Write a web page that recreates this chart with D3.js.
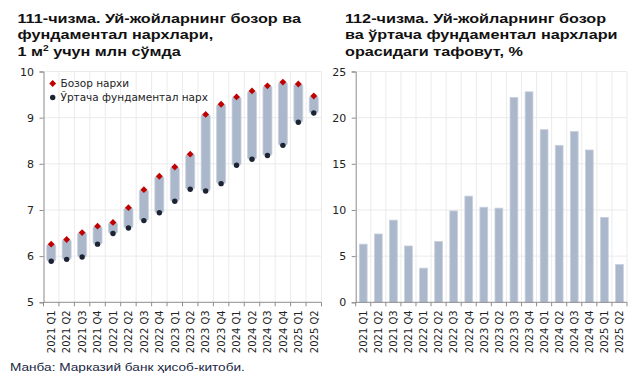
<!DOCTYPE html>
<html><head><meta charset="utf-8">
<script src="https://cdn.jsdelivr.net/npm/d3@7"></script>
<style>
body{margin:0;background:#fff;}
svg{display:block;font-family:"Liberation Sans",Arial,sans-serif;}
</style></head>
<body><svg id="c" width="643" height="380"></svg>
<script>
const quarters = ["2021 Q1","2021 Q2","2021 Q3","2021 Q4","2022 Q1","2022 Q2","2022 Q3","2022 Q4","2023 Q1","2023 Q2","2023 Q3","2023 Q4","2024 Q1","2024 Q2","2024 Q3","2024 Q4","2025 Q1","2025 Q2"];
const marketPrice = [6.26,6.36,6.51,6.65,6.73,7.05,7.44,7.73,7.93,8.21,9.07,9.29,9.45,9.58,9.69,9.77,9.73,9.47];
const fundamentalPrice = [5.89,5.93,5.98,6.26,6.49,6.61,6.77,6.94,7.19,7.45,7.41,7.57,7.97,8.10,8.18,8.40,8.90,9.10];
const gapPct = [6.3,7.4,8.9,6.1,3.7,6.6,9.9,11.5,10.3,10.2,22.2,22.8,18.7,17.0,18.5,16.5,9.2,4.1];
const leftTicks = [5,6,7,8,9,10];
const rightTicks = [0,5,10,15,20,25];
const titleLeft = ["111-чизма. Уй-жойларнинг бозор ва","фундаментал нархлари,","1 м² учун млн сўмда"];
const titleRight = ["112-чизма. Уй-жойларнинг бозор","ва ўртача фундаментал нархлари","орасидаги тафовут, %"];
const legendLabels = ["Бозор нархи","Ўртача фундаментал нарх"];
const sourceText = "Манба: Марказий банк ҳисоб-китоби.";

const svg = d3.select("#c");
const barColor = "#abb7cb";
const gridColor = "#ebebeb";
const axisColor = "#8c8c8c";
const tickFont = "DejaVu Sans, Verdana, sans-serif";

function drawTitle(lines, x){
  const g = svg.append("g").attr("transform",`translate(${x},0) scale(1.2,1)`);
  const t = g.append("text").attr("font-weight","bold").attr("font-size",13.5).attr("fill","#111");
  lines.forEach((l,i)=>{
    if(l.includes("м²")){
      const tt = t.append("tspan").attr("x",0).attr("y",22.7+i*16.6);
      tt.text("1 м");
      t.append("tspan").attr("dy",-5).attr("font-size",8.5).text("2");
      t.append("tspan").attr("dy",5).text(" учун млн сўмда");
    } else {
      t.append("tspan").attr("x",0).attr("y",22.7+i*16.6).text(l);
    }
  });
}
drawTitle(titleLeft,17.5);
drawTitle(titleRight,345);

function frame(x0,x1,domain,ticks){
  const xs = d3.scaleBand().domain(quarters).range([x0,x1]).paddingInner(0).paddingOuter(0);
  const ys = d3.scaleLinear().domain(domain).range([302.3,71.5]);
  const g = svg.append("g");
  const bounds = quarters.map(q=>xs(q)).concat([x1]);
  g.selectAll(".vg").data(bounds.slice(1)).join("line")
    .attr("x1",d=>d).attr("x2",d=>d).attr("y1",ys(domain[1])).attr("y2",ys(domain[0]))
    .attr("stroke",gridColor).attr("stroke-width",1);
  g.selectAll(".hg").data(ticks.slice(1)).join("line")
    .attr("x1",x0).attr("x2",x1).attr("y1",d=>ys(d)).attr("y2",d=>ys(d))
    .attr("stroke",gridColor).attr("stroke-width",1);
  const ya = svg.append("g").attr("transform",`translate(${x0},0)`)
    .call(d3.axisLeft(ys).tickValues(ticks).tickSize(4).tickPadding(5.5).tickFormat(d3.format("d")));
  ya.select(".domain").attr("stroke",axisColor);
  ya.selectAll(".tick line").attr("stroke",axisColor);
  ya.selectAll("text").attr("font-size",11).attr("fill","#222").attr("font-family",tickFont);
  return {xs,ys,bounds};
}

function bottomAxis(f,x0,x1){
  const y0 = f.ys.range()[0];
  const g = svg.append("g");
  g.append("line").attr("x1",x0).attr("x2",x1).attr("y1",y0).attr("y2",y0).attr("stroke",axisColor);
  g.selectAll(".bt").data(f.bounds).join("line")
    .attr("x1",d=>d).attr("x2",d=>d).attr("y1",y0).attr("y2",y0+4).attr("stroke",axisColor);
  g.selectAll(".bl").data(quarters).join("text")
    .attr("transform",d=>`translate(${f.xs(d)+f.xs.bandwidth()/2+3.8},${y0+8}) rotate(-90)`)
    .attr("text-anchor","end").attr("font-size",10).attr("font-family",tickFont).attr("fill","#222").text(d=>d);
}

// Left chart
const L = frame(43.5,321.5,[5,10],leftTicks);
const lbw = 9;
svg.append("g").selectAll("rect").data(quarters).join("rect")
  .attr("x",(d)=>L.xs(d)+L.xs.bandwidth()/2-lbw/2)
  .attr("width",lbw)
  .attr("y",(d,i)=>L.ys(marketPrice[i]))
  .attr("height",(d,i)=>L.ys(fundamentalPrice[i])-L.ys(marketPrice[i]))
  .attr("rx",2).attr("fill",barColor).attr("stroke","#c9d1de").attr("stroke-width",0.8);
svg.append("g").selectAll("circle").data(quarters).join("circle")
  .attr("cx",d=>L.xs(d)+L.xs.bandwidth()/2).attr("cy",(d,i)=>L.ys(fundamentalPrice[i]))
  .attr("r",2.7).attr("fill","#1c2433");
const diamond = d3.symbol().type(d3.symbolDiamond2).size(30);
svg.append("g").selectAll("path").data(quarters).join("path")
  .attr("transform",(d,i)=>`translate(${L.xs(d)+L.xs.bandwidth()/2},${L.ys(marketPrice[i])})`)
  .attr("d",diamond).attr("fill","#c00000");
bottomAxis(L,43.5,321.5);

// legend
const lg = svg.append("g").attr("font-size",10.5).attr("font-family",tickFont).attr("fill","#222");
lg.append("path").attr("transform","translate(52.7,83.5)").attr("d",diamond).attr("fill","#c00000");
lg.append("circle").attr("cx",52.7).attr("cy",97.5).attr("r",2.7).attr("fill","#1c2433");
lg.append("text").attr("x",60.5).attr("y",87.3).text(legendLabels[0]);
lg.append("text").attr("x",60.5).attr("y",101.3).text(legendLabels[1]);

// Right chart
const R = frame(355.7,627,[0,25],rightTicks);
const rbw = 7.8;
svg.append("g").selectAll("rect").data(quarters).join("rect")
  .attr("x",d=>R.xs(d)+R.xs.bandwidth()/2-rbw/2)
  .attr("width",rbw)
  .attr("y",(d,i)=>R.ys(gapPct[i]))
  .attr("height",(d,i)=>R.ys(0)-R.ys(gapPct[i]))
  .attr("fill",barColor).attr("stroke","#c9d1de").attr("stroke-width",0.8);
bottomAxis(R,355.7,627);

svg.append("g").attr("transform","translate(10,371) scale(1.24,1)")
  .append("text").attr("x",0).attr("y",0).attr("font-size",11).attr("fill","#1a2744").text(sourceText);
</script>
</body></html>
